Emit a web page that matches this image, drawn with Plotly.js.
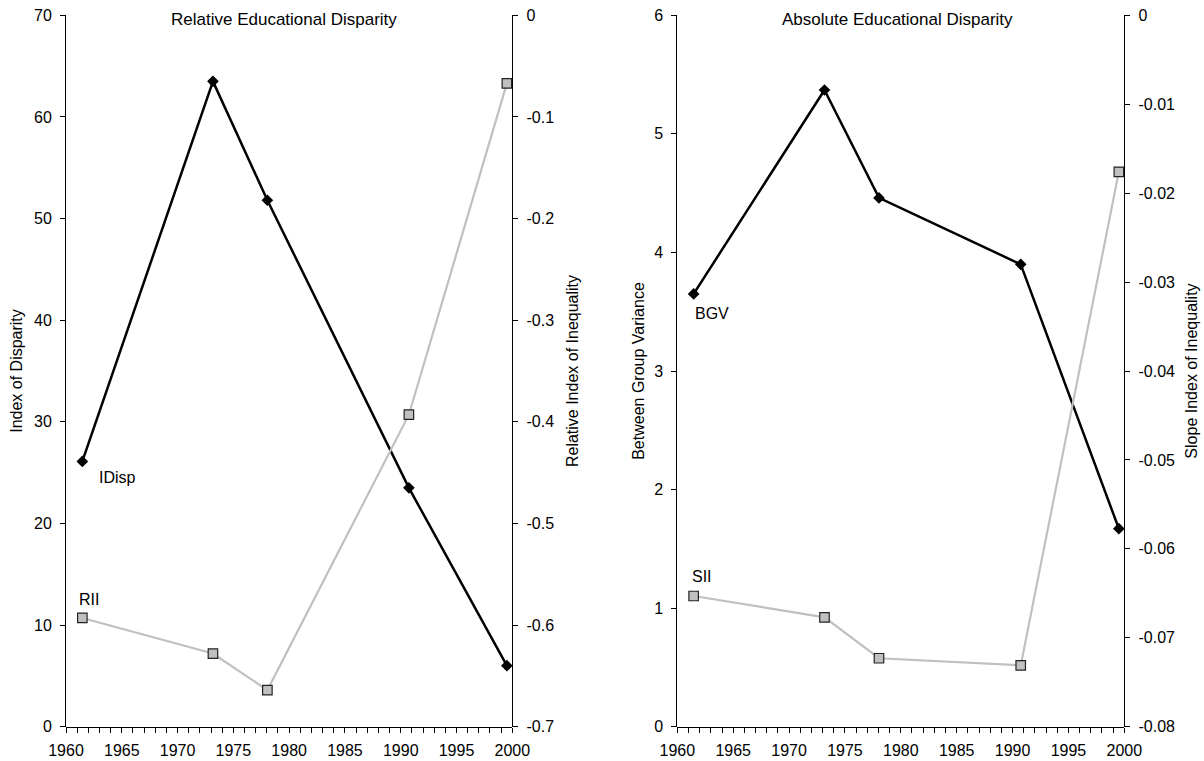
<!DOCTYPE html>
<html>
<head>
<meta charset="utf-8">
<script src="https://cdn.plot.ly/plotly-3.0.1.min.js"></script>
<style>
html,body{margin:0;padding:0;background:#fff;}
#chart{width:1204px;height:761px;}
</style>
</head>
<body>
<div id="chart"></div>
<script>
// ---- data ----
const years = [1961, 1973, 1978, 1991, 2000];
const idisp = [26.1, 63.5, 51.8, 23.5, 6.0];
const rii = [-0.593, -0.628, -0.664, -0.393, -0.067];
const bgv = [3.65, 5.37, 4.46, 3.90, 1.67];
const sii = [-0.0653, -0.0677, -0.0723, -0.0731, -0.0176];

const yearTicks = [1960, 1965, 1970, 1975, 1980, 1985, 1990, 1995, 2000];
const idispTicks = [0, 10, 20, 30, 40, 50, 60, 70];
const riiTicks = [-0.7, -0.6, -0.5, -0.4, -0.3, -0.2, -0.1, 0];
const riiLabels = ["-0.7", "-0.6", "-0.5", "-0.4", "-0.3", "-0.2", "-0.1", "0"];
const bgvTicks = [0, 1, 2, 3, 4, 5, 6];
const siiTicks = [-0.08, -0.07, -0.06, -0.05, -0.04, -0.03, -0.02, -0.01, 0];
const siiLabels = ["-0.08", "-0.07", "-0.06", "-0.05", "-0.04", "-0.03", "-0.02", "-0.01", "0"];

const seriesNames = ["IDisp", "RII", "BGV", "SII"];
const panelTitles = ["Relative Educational Disparity", "Absolute Educational Disparity"];
const axisTitles = ["Index of Disparity", "Relative Index of Inequality", "Between Group Variance", "Slope Index of Inequality"];

// ---- styling ----
const FONT = "'Liberation Sans', Arial, sans-serif";
const FS = 16;
const W = 1204, H = 761;
const xL = [66 / W, 512.3 / W];
const xR = [677.3 / W, 1124.3 / W];
const yD = [1 - 726.7 / H, 1 - 15.3 / H];

const blackLine = {color: '#000', width: 2.5};
const grayLine = {color: '#c0c0c0', width: 2.2};
const diamond = {symbol: 'diamond', size: 9, color: '#000'};
const square = {symbol: 'square', size: 9.5, color: '#c0c0c0', line: {color: '#222', width: 1.2}};

const traces = [
  {x: years, y: idisp, xaxis: 'x', yaxis: 'y', mode: 'lines+markers', line: blackLine, marker: diamond, name: seriesNames[0]},
  {x: years, y: rii, xaxis: 'x', yaxis: 'y2', mode: 'lines+markers', line: grayLine, marker: square, name: seriesNames[1]},
  {x: years, y: bgv, xaxis: 'x3', yaxis: 'y3', mode: 'lines+markers', line: blackLine, marker: diamond, name: seriesNames[2]},
  {x: years, y: sii, xaxis: 'x3', yaxis: 'y4', mode: 'lines+markers', line: grayLine, marker: square, name: seriesNames[3]},
  // empty traces so the year-tick axes get their own subplots
  {x: [], y: [], xaxis: 'x5', yaxis: 'y5', mode: 'markers', hoverinfo: 'skip'},
  {x: [], y: [], xaxis: 'x6', yaxis: 'y6', mode: 'markers', hoverinfo: 'skip'}
];

// data axis: positions the points (no visible parts)
const xData = (dom, anchor) => ({
  domain: dom, anchor: anchor, range: [1959.5, 2000.5],
  showticklabels: false, ticks: '', showline: false,
  showgrid: false, zeroline: false, automargin: false, fixedrange: true
});
// year axis: drawn ticks and labels
const xVis = (dom, anchor) => ({
  domain: dom, anchor: anchor, range: [1960, 2000],
  tickmode: 'array', tickvals: yearTicks, ticktext: yearTicks.map(String),
  ticks: 'outside', ticklen: 5, tickwidth: 1, tickcolor: '#000', ticklabelstandoff: 4,
  minor: {dtick: 1, tick0: 1960, ticks: 'outside', ticklen: 5, tickwidth: 1, tickcolor: '#000'},
  showline: true, linecolor: '#000', linewidth: 1,
  showgrid: false, zeroline: false, automargin: false, fixedrange: true
});
const yHid = (anchor) => ({
  domain: yD, anchor: anchor, range: [0, 1],
  showticklabels: false, ticks: '', showline: false,
  showgrid: false, zeroline: false, automargin: false, fixedrange: true
});
const yAx = (anchor, range, vals, text, title, side, standoff, over) => {
  const a = {
    anchor: anchor, range: range,
    tickmode: 'array', tickvals: vals, ticktext: text,
    ticks: 'outside', ticklen: 5, tickwidth: 1, tickcolor: '#000', ticklabelstandoff: 5,
    showline: true, linecolor: '#000', linewidth: 1,
    showgrid: false, zeroline: false, automargin: false, fixedrange: true,
    title: {text: title, standoff: standoff, font: {family: FONT, size: FS, color: '#000'}},
    side: side
  };
  if (over) a.overlaying = over; else a.domain = yD;
  return a;
};

const ann = (xref, yref, x, y, text, xshift, yshift) => ({
  xref: xref, yref: yref, x: x, y: y, text: text, showarrow: false,
  xanchor: 'left', yanchor: 'middle', xshift: xshift, yshift: yshift,
  font: {family: FONT, size: FS, color: '#000'}
});

const layout = {
  width: W, height: H,
  margin: {l: 0, r: 0, t: 0, b: 0, pad: 0},
  paper_bgcolor: '#fff', plot_bgcolor: 'rgba(0,0,0,0)',
  showlegend: false,
  font: {family: FONT, size: FS, color: '#000'},
  xaxis: xData(xL, 'y'),
  xaxis3: xData(xR, 'y3'),
  xaxis5: xVis(xL, 'y5'),
  xaxis6: xVis(xR, 'y6'),
  yaxis: yAx('x', [0, 70], idispTicks, idispTicks.map(String), axisTitles[0], 'left', 7),
  yaxis2: yAx('x', [-0.7, 0], riiTicks, riiLabels, axisTitles[1], 'right', 13, 'y'),
  yaxis3: yAx('x3', [0, 6], bgvTicks, bgvTicks.map(String), axisTitles[2], 'left', 5),
  yaxis4: yAx('x3', [-0.08, 0], siiTicks, siiLabels, axisTitles[3], 'right', 11, 'y3'),
  yaxis5: yHid('x5'),
  yaxis6: yHid('x6'),
  annotations: [
    {xref: 'paper', yref: 'paper', x: 283.5 / W, y: 1 - 19.5 / H, text: panelTitles[0], showarrow: false,
     xanchor: 'center', yanchor: 'middle', font: {family: FONT, size: 17, color: '#000'}},
    {xref: 'paper', yref: 'paper', x: 897.3 / W, y: 1 - 19.5 / H, text: panelTitles[1], showarrow: false,
     xanchor: 'center', yanchor: 'middle', font: {family: FONT, size: 17, color: '#000'}},
    ann('x', 'y', years[0], idisp[0], seriesNames[0], 15, -16),
    ann('x', 'y2', years[0], rii[0], seriesNames[1], -5, 18),
    ann('x3', 'y3', years[0], bgv[0], seriesNames[2], -1, -20),
    ann('x3', 'y4', years[0], sii[0], seriesNames[3], -4, 19)
  ]
};

Plotly.newPlot('chart', traces, layout, {staticPlot: true, displayModeBar: false});
</script>
</body>
</html>
